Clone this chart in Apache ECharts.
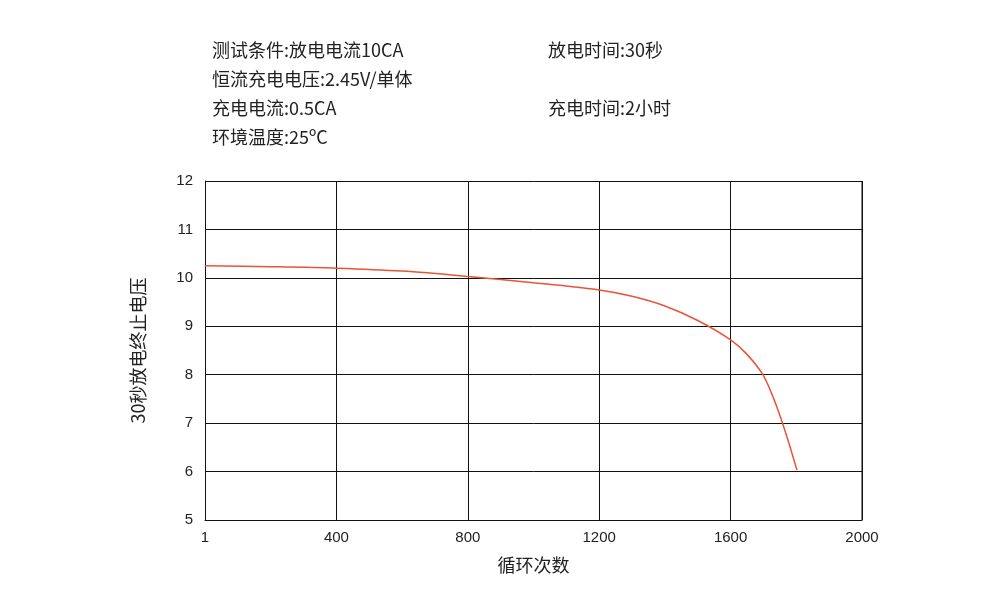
<!DOCTYPE html>
<html><head><meta charset="utf-8">
<script src="https://cdn.jsdelivr.net/npm/echarts@6/dist/echarts.min.js"></script>
<style>body{margin:0;background:#fff}#c{width:1000px;height:600px}</style>
</head><body><div id="c"></div>
<script>
const cycles = [0, 200, 400, 600, 800, 1000, 1200, 1300, 1400, 1500, 1600, 1650, 1700, 1740, 1770, 1802];
const voltage = [10.25, 10.23, 10.2, 10.14, 10.03, 9.9, 9.75, 9.62, 9.42, 9.12, 8.72, 8.42, 7.98, 7.35, 6.75, 6.03];
const xTicks = ['1', '400', '800', '1200', '1600', '2000'];
const infoLeft = ['测试条件:放电电流10CA', '恒流充电电压:2.45V/单体', '充电电流:0.5CA', '环境温度:25ºC'];
const infoRight = ['放电时间:30秒', '', '充电时间:2小时', ''];
const font = '"Noto Sans CJK SC", sans-serif';
const ch = echarts.init(document.getElementById('c'));
const ys = [52, 81, 110, 139];
const graphic = [];
infoLeft.forEach((t, i) => graphic.push({type: 'text', left: 212, top: ys[i] - 11, style: {text: t, font: '18px ' + font, fill: '#222'}}));
infoRight.forEach((t, i) => t && graphic.push({type: 'text', left: 548, top: ys[i] - 11, style: {text: t, font: '18px ' + font, fill: '#222'}}));
ch.setOption({
  graphic,
  grid: {left: 205, right: 138, top: 181, bottom: 80},
  xAxis: {type: 'value', min: 0, max: 2000, interval: 400,
    name: '循环次数', nameLocation: 'middle', nameGap: 36,
    nameTextStyle: {fontSize: 18, color: '#222', fontFamily: font},
    axisLine: {show: true, lineStyle: {color: '#111', width: 1}}, axisTick: {show: false},
    axisLabel: {fontSize: 15, color: '#222', formatter: (v) => xTicks[v / 400], margin: 10},
    splitLine: {show: true, lineStyle: {color: '#111', width: 1}}},
  yAxis: {type: 'value', min: 5, max: 12, interval: 1,
    name: '30秒放电终止电压', nameLocation: 'middle', nameGap: 58,
    nameTextStyle: {fontSize: 18, color: '#222', fontFamily: font},
    axisLine: {show: true, lineStyle: {color: '#111'}}, axisTick: {show: false},
    axisLabel: {fontSize: 15, color: '#222', margin: 12},
    splitLine: {show: true, lineStyle: {color: '#111', width: 1}}},
  series: [{type: 'line', data: cycles.map((c, i) => [c, voltage[i]]), smooth: 0.3,
    showSymbol: false, lineStyle: {color: '#e8543a', width: 1.5}},
    {type: 'line', data: [[2000, 5], [2000, 12]], showSymbol: false, lineStyle: {color: '#111', width: 1}, silent: true}]
});
</script></body></html>
